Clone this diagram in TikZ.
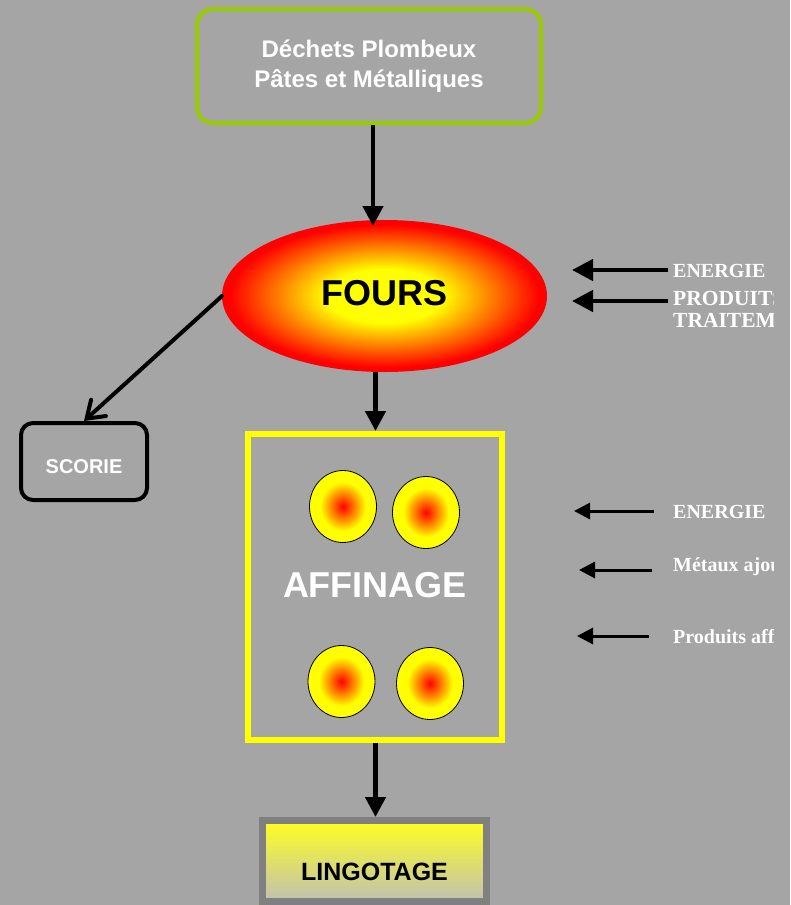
\documentclass[tikz,border=0pt]{standalone}
\usepackage{fontspec}
\usetikzlibrary{shapes.geometric,arrows.meta}
\newfontfamily\hsans{Liberation Sans}
\newfontfamily\tserif{Liberation Serif}
\definecolor{bg}{RGB}{165,165,165}
\definecolor{fy}{RGB}{255,255,0}
\definecolor{fr}{RGB}{255,0,0}
\definecolor{lime}{RGB}{153,204,0}
\definecolor{ybord}{RGB}{255,255,0}
\definecolor{lgray}{RGB}{128,128,128}
\definecolor{ltop}{RGB}{255,255,32}
\definecolor{lbot}{RGB}{192,192,180}
\pgfdeclareradialshading{furnace}{\pgfpoint{0bp}{0bp}}{color(0bp)=(fy); color(9bp)=(fy); color(24bp)=(fr); color(50bp)=(fr)}
\pgfdeclareradialshading{crucible}{\pgfpoint{0bp}{0bp}}{color(0bp)=(fr); color(17bp)=(fy); color(50bp)=(fy)}
\tikzset{
  flow/.style={line width=4.5pt, -{Triangle[length=20pt,width=20pt]}},
  inA/.style={line width=4.5pt, -{Triangle[length=21pt,width=21pt]}},
  inB/.style={line width=3pt, -{Triangle[length=16pt,width=16pt]}},
  side/.style={font=\tserif\bfseries\fontsize{20}{22}\selectfont, text=white, inner sep=0pt, anchor=base west},
  pot/.style={ellipse, draw=black, line width=0.8pt, shading=crucible, minimum width=67pt, minimum height=72pt, inner sep=0pt}
}
\begin{document}
\begin{tikzpicture}[x=1pt,y=-1pt]
\fill[bg] (0,0) rectangle (790,905);
\useasboundingbox (0,0) rectangle (790,905);
\clip (0,0) rectangle (790,905);

\node[draw=lime, line width=4pt, rounded corners=16pt, minimum width=344pt, minimum height=114pt,
  align=center, text=white, font=\hsans\bfseries\fontsize{24}{30}\selectfont] (waste) at (369,66)
  {Déchets Plombeux\\Pâtes et Métalliques};

\node[ellipse, draw=fr, line width=3pt, shading=furnace, minimum width=322pt, minimum height=149pt,
  font=\hsans\bfseries\fontsize{36}{40}\selectfont, text height=19.8pt, text depth=0pt, inner sep=0pt] (fours) at (384.5,296) {FOURS};

\node[draw=black, line width=4pt, rounded corners=12pt, minimum width=126pt, minimum height=77pt,
  text=white, font=\hsans\bfseries\fontsize{20}{24}\selectfont, text height=23.3pt, text depth=0pt,
  inner sep=0pt] (scorie) at (84,461.5) {SCORIE};

\node[draw=ybord, line width=6pt, minimum width=254pt, minimum height=306pt, text=white,
  font=\hsans\bfseries\fontsize{36}{40}\selectfont, text height=21.8pt, text depth=0pt, inner sep=0pt] (aff) at (375,587) {AFFINAGE};

\node[pot] (p1) at (343,506.5) {};
\node[pot] (p2) at (426,512.5) {};
\node[pot] (p3) at (341.5,681.5) {};
\node[pot] (p4) at (430,683.5) {};

\node[draw=lgray, line width=7pt, top color=ltop, bottom color=lbot, minimum width=224pt, minimum height=81pt,
  font=\hsans\bfseries\fontsize{25}{28}\selectfont, text height=39.3pt, text depth=0pt, inner sep=0pt]
  (ling) at (374.5,861) {LINGOTAGE};

\coordinate (ax) at (373,0);
\coordinate (bx) at (375.5,0);
\draw[flow, shorten >=-6pt] (waste.south -| ax) -- (fours.north -| ax);
\draw[flow] (fours.south -| bx) -- (aff.north -| bx);
\draw[flow] (aff.south -| bx) -- (ling.north -| bx);
\draw[line width=4pt, line cap=round, -{Straight Barb[length=16pt,width=22pt,line cap=round]}] (fours.west) -- (scorie.north);

\coordinate (a1s) at (668,270); \coordinate (a1t) at (572,270);
\coordinate (a2s) at (668,301); \coordinate (a2t) at (572,301);
\coordinate (a3s) at (654,511); \coordinate (a3t) at (574,511);
\coordinate (a4s) at (652,570); \coordinate (a4t) at (579,570);
\coordinate (a5s) at (649,636); \coordinate (a5t) at (577,636);
\draw[inA] (a1s) -- (a1t);
\draw[inA] (a2s) -- (a2t);
\draw[inB] (a3s) -- (a3t);
\draw[inB] (a4s) -- (a4t);
\draw[inB] (a5s) -- (a5t);

\begin{scope}
\clip (0,0) rectangle (773,905);
\node[side] (t1) at (673,277) {ENERGIE};
\node[side, font=\tserif\bfseries\fontsize{21.5}{22}\selectfont] (t2) at (673,305.5) {PRODUITS DE};
\node[side, font=\tserif\bfseries\fontsize{21.5}{22}\selectfont] (t3) at (673,327) {TRAITEMENT};
\node[side] (t4) at (673,518.3) {ENERGIE};
\node[side] (t5) at (673,571.7) {Métaux ajoutés};
\node[side] (t6) at (673,643) {Produits affinants};
\end{scope}
\end{tikzpicture}
\end{document}
